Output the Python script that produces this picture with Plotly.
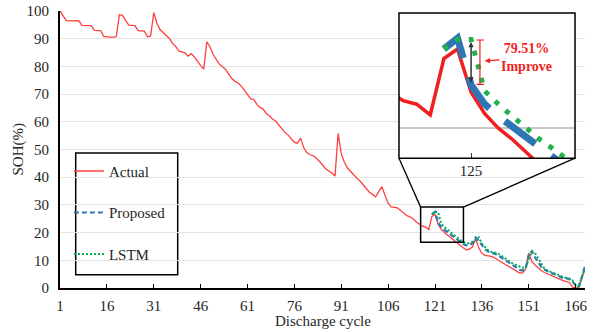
import plotly.graph_objects as go

# ---------------- data ----------------
cycles = list(range(1, 170))
actual = [
    100.0, 98.2, 96.5, 96.4, 96.4, 96.4, 96.5, 94.8, 94.7, 94.7,
    94.7, 93.0, 92.9, 92.9, 90.8, 90.6, 90.6, 90.6, 90.7, 98.6,
    98.4, 96.6, 94.9, 94.8, 94.7, 92.9, 92.9, 92.7, 90.7, 91.0,
    99.4, 95.6, 93.3, 92.2, 91.3, 90.1, 88.3, 87.2, 85.6, 85.2,
    84.9, 83.7, 84.6, 83.4, 81.6, 80.3, 79.0, 88.9, 87.1, 84.3,
    82.5, 80.8, 79.9, 78.9, 77.2, 75.6, 74.6, 74.0, 72.9, 71.6,
    69.9, 68.3, 68.1, 66.3, 65.2, 64.6, 63.0, 62.2, 61.0, 60.3,
    58.9, 57.2, 56.1, 55.2, 53.7, 52.6, 52.3, 54.1, 50.6, 48.9,
    48.1, 47.8, 46.9, 45.8, 44.5, 43.0, 42.4, 41.5, 40.4, 55.8,
    48.5, 45.4, 43.3, 42.0, 40.7, 39.6, 38.6, 37.2, 35.7, 34.6,
    33.8, 32.9, 34.8, 36.6, 33.5, 30.6, 29.3, 29.1, 28.9, 28.0,
    26.9, 26.1, 25.7, 25.0, 23.8, 23.0, 22.3, 22.0, 21.1, 25.8,
    26.6, 23.0, 21.2, 20.0, 19.1, 18.0, 17.0, 16.2, 15.2, 14.5,
    13.8, 14.0, 14.9, 17.8, 14.5, 12.5, 11.8, 11.6, 11.4, 10.9,
    10.2, 9.6, 8.9, 8.2, 7.4, 6.6, 5.9, 5.5, 5.4, 6.8,
    12.6, 9.6, 8.3, 7.2, 6.3, 5.6, 5.1, 4.6, 4.1, 3.5,
    3.1, 2.7, 2.3, 2.0, 0.3, 0.0, 0.0, 3.5, 7.0,
]
pred_cycles = list(range(120, 170))
proposed = [
    26.6, 27.5, 23.6, 22.0, 21.0, 20.1, 19.2, 18.3, 17.4, 16.6,
    15.9, 15.4, 15.5, 16.2, 18.2, 17.0, 15.5, 14.0, 13.2, 12.8,
    12.6, 12.0, 11.2, 10.4, 9.6, 8.8, 8.0, 7.3, 6.6, 6.3,
    7.0, 12.0, 13.3, 11.0, 9.2, 7.7, 6.7, 5.9, 5.4, 5.1,
    4.6, 3.9, 3.6, 3.5, 3.3, 2.2, 1.0, 0.3, 3.8, 7.8,
]
lstm = [
    26.6, 27.4, 27.4, 23.1, 22.0, 21.0, 20.1, 19.1, 18.3, 17.5,
    16.6, 16.2, 16.2, 16.6, 17.6, 18.3, 16.0, 14.6, 13.6, 13.1,
    12.8, 12.5, 11.9, 11.0, 10.2, 9.4, 8.8, 8.3, 7.8, 7.3,
    7.5, 10.5, 13.2, 12.6, 10.6, 8.5, 7.0, 6.3, 5.8, 5.3,
    4.8, 4.4, 4.0, 3.5, 3.1, 2.7, 1.0, 0.3, 3.8, 7.5,
]
x_tick_vals = [1, 16, 31, 46, 61, 76, 91, 106, 121, 136, 151, 166]
y_tick_vals = [0, 10, 20, 30, 40, 50, 60, 70, 80, 90, 100]
inset_tick_vals = [122]
inset_tick_text = ["125"]
inset_grid_vals = [20]
improve_lines = ["79.51%", "Improve"]

# zoom window (main-axis data coords) and inset ranges
zoom_x = [116.4, 130.1]
zoom_y = [16.5, 29.2]
inset_x_range = [116.7, 129.64]
inset_y_range = [17.5, 29.6]
main_x_range = [1, 169]
main_y_range = [0, 100]

FONT = "Liberation Serif"
TXT = "#262626"
RED = "#FF4040"
BLUE = "#2E75B6"
GREEN = "#00B050"
IRED = "#F01E1E"

fig = go.Figure()
fig.add_trace(go.Scatter(x=cycles, y=actual, mode="lines", name="Actual",
                         line=dict(color=RED, width=1.3), legendgroup="a"))
fig.add_trace(go.Scatter(x=pred_cycles, y=proposed, mode="lines", name="Proposed",
                         line=dict(color=BLUE, width=2.2, dash="5px,3px"), legendgroup="b"))
fig.add_trace(go.Scatter(x=pred_cycles, y=lstm, mode="lines", name="LSTM",
                         line=dict(color=GREEN, width=2, dash="2px,2px"), legendgroup="c"))

# inset traces (same data, zoomed axes)
fig.add_trace(go.Scatter(x=cycles, y=actual, mode="lines", showlegend=False,
                         line=dict(color=IRED, width=3.5), xaxis="x2", yaxis="y2"))
fig.add_trace(go.Scatter(x=pred_cycles, y=proposed, mode="lines", showlegend=False,
                         line=dict(color=BLUE, width=7, dash="38px,20px"), xaxis="x2", yaxis="y2"))
fig.add_trace(go.Scatter(x=pred_cycles, y=lstm, mode="lines", showlegend=False,
                         line=dict(color="#22B04B", width=5, dash="5px,9px"), xaxis="x2", yaxis="y2"))

inset_dom_x = [0.6457, 0.981]
inset_dom_y = [0.4686, 0.9928]


def px(c):
    return (c - main_x_range[0]) / (main_x_range[1] - main_x_range[0])


def py(v):
    return (v - main_y_range[0]) / (main_y_range[1] - main_y_range[0])


shapes = [
    # legend box
    dict(type="rect", xref="paper", yref="paper", x0=0.0299, x1=0.2242, y0=0.048, y1=0.4877,
         line=dict(color="black", width=1.5), fillcolor="white", layer="below"),
    # zoom box on main chart
    dict(type="rect", xref="x", yref="y", x0=zoom_x[0], x1=zoom_x[1], y0=zoom_y[0], y1=zoom_y[1],
         line=dict(color="black", width=1.5)),
    # connectors
    dict(type="line", xref="paper", yref="paper", x0=inset_dom_x[0], y0=inset_dom_y[0],
         x1=px(zoom_x[0]), y1=py(zoom_y[1]), line=dict(color="black", width=1.3)),
    dict(type="line", xref="paper", yref="paper", x0=inset_dom_x[1], y0=inset_dom_y[0],
         x1=px(zoom_x[1]), y1=py(zoom_y[1]), line=dict(color="black", width=1.3)),
    # inset frame
    dict(type="rect", xref="x2 domain", yref="y2 domain", x0=0, x1=1, y0=0, y1=1,
         line=dict(color="black", width=1.5)),
    # red bracket
    dict(type="line", xref="x2", yref="y2", x0=122.65, x1=122.65, y0=23.65, y1=27.35,
         line=dict(color=IRED, width=1.2)),
    dict(type="line", xref="x2", yref="y2", x0=122.4, x1=122.95, y0=27.35, y1=27.35,
         line=dict(color=IRED, width=1.2)),
    dict(type="line", xref="x2", yref="y2", x0=122.4, x1=122.95, y0=23.65, y1=23.65,
         line=dict(color=IRED, width=1.2)),
]

annotations = [
    dict(x=122, y=23.8, ax=122, ay=27.3, xref="x2", yref="y2", axref="x2", ayref="y2",
         text="", showarrow=True, arrowhead=2, arrowside="end+start", arrowsize=0.7,
         arrowwidth=1.5, arrowcolor="#333333"),
    dict(x=123.0, y=25.6, xref="x2", yref="y2", ax=42, ay=-3,
         text="<br>".join("<b>" + s + "</b>" for s in improve_lines),
         showarrow=True, arrowhead=2, arrowsize=0.9, arrowwidth=1.2, arrowcolor=IRED,
         font=dict(family=FONT, size=14, color=IRED), align="center"),
    # axis titles
    dict(x=0.5, y=0, xref="paper", yref="paper", yanchor="middle", yshift=-33,
         text="Discharge cycle", showarrow=False, font=dict(family=FONT, size=15, color=TXT)),
    dict(x=0, y=0.5, xref="paper", yref="paper", xanchor="center", xshift=-42,
         text="SOH(%)", textangle=-90, showarrow=False, font=dict(family=FONT, size=15, color=TXT)),
]

fig.update_layout(
    width=599, height=332,
    margin=dict(l=60, r=14, t=11, b=44, pad=0, autoexpand=False),
    paper_bgcolor="white",
    plot_bgcolor="white",
    font=dict(family=FONT, size=15, color=TXT),
    showlegend=True,
    legend=dict(x=0.017, y=0.481, xanchor="left", yanchor="top", bgcolor="rgba(0,0,0,0)",
                borderwidth=0, tracegroupgap=19, itemwidth=30,
                font=dict(family=FONT, size=15, color=TXT)),
    xaxis=dict(range=main_x_range, domain=[0, 1], tickmode="array", tickvals=x_tick_vals,
               ticks="inside", ticklen=4, tickwidth=1.3, tickcolor="black", automargin=False,
               showline=True, linecolor="black", linewidth=2, showgrid=False, zeroline=False,
               ticklabelstandoff=3),
    yaxis=dict(range=main_y_range, domain=[0, 1], tickmode="array", tickvals=y_tick_vals,
               ticks="", showline=True, linecolor="black", linewidth=2, automargin=False,
               showgrid=True, gridcolor="#E3E3E3", gridwidth=1, zeroline=False,
               ticklabelstandoff=6),
    xaxis2=dict(range=inset_x_range, domain=inset_dom_x, anchor="y2", tickmode="array",
                tickvals=inset_tick_vals, ticktext=inset_tick_text, ticks="inside", ticklen=5,
                tickcolor="#333333", tickwidth=1.3, showgrid=False, zeroline=False,
                showline=False, automargin=False, ticklabelstandoff=2),
    yaxis2=dict(range=inset_y_range, domain=inset_dom_y, anchor="x2", tickmode="array",
                tickvals=inset_grid_vals, showticklabels=False, ticks="", showgrid=True,
                automargin=False, gridcolor="#C8C8C8", gridwidth=1.5, zeroline=False,
                showline=False),
    shapes=shapes,
    annotations=annotations,
)

fig.write_html("out.html", config={"displayModeBar": False},
               post_script="document.body.style.margin='0px';")
